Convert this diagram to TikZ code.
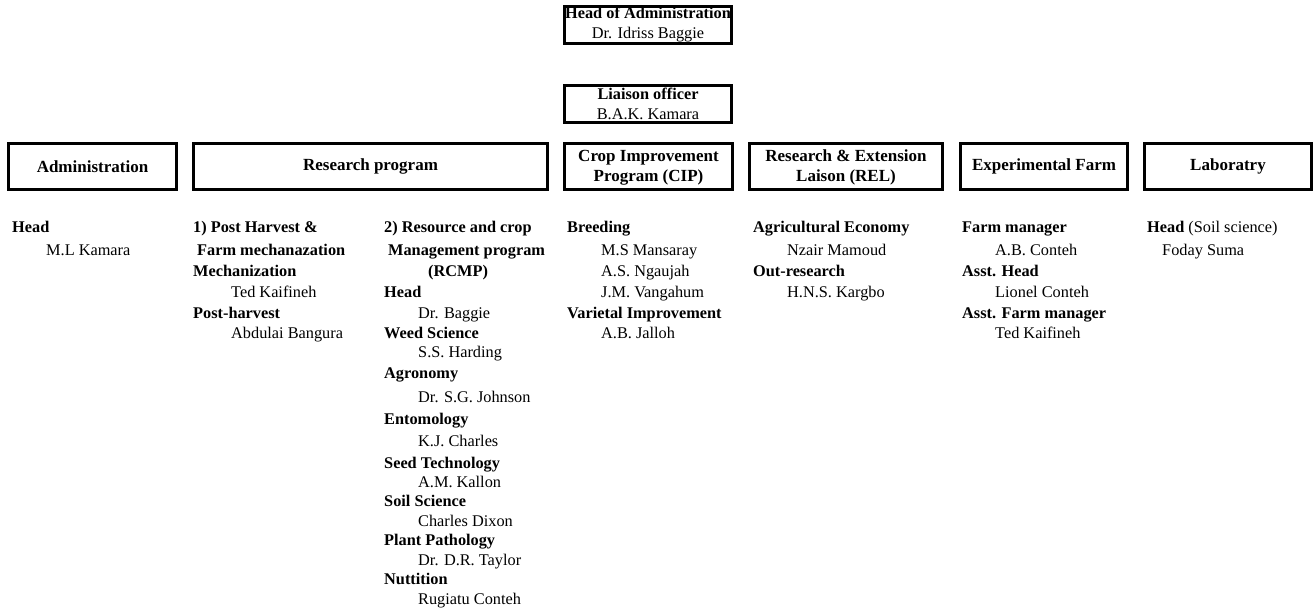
\documentclass[tikz,border=0pt]{standalone}
\usepackage{fontspec}
\setmainfont{Liberation Serif}

\begin{document}
\begin{tikzpicture}[
    x = 1pt, y = -1pt,
    every node/.style = {font = \fontsize{16.3}{20}\selectfont, inner sep = 0pt},
    headbox/.style = {draw, line width = 2.6pt, align = center, minimum width = 167.4pt, minimum height = 37.4pt},
    unitbox/.style = {draw, line width = 2.6pt, align = center, minimum height = 46.4pt, font = \fontsize{17}{20}\selectfont\bfseries},
    entry/.style = {anchor = base west},
]
\useasboundingbox (0,0) rectangle (1314,610);

% top of the chart
\node[headbox] (hoa) at (648, 25) {\textbf{Head of Administration}\\Dr. Idriss Baggie};
\node[headbox] (lo) at (648, 104) {\textbf{Liaison officer}\\B.A.K. Kamara};

% the units
\node[unitbox, minimum width = 168.4pt] (adm) at (92.5, 166.5) {Administration};
\node[unitbox, minimum width = 354.4pt] (rp) at (370.5, 166.5) {Research program};
\node[unitbox, minimum width = 168.4pt] (cip) at (648.5, 166.5) {\rule{0pt}{14pt}Crop Improvement\\Program (CIP)};
\node[unitbox, minimum width = 193.4pt] (rel) at (846, 166.5) {\rule{0pt}{14pt}Research \& Extension\\Laison (REL)};
\node[unitbox, minimum width = 167.4pt] (ef) at (1044, 166.5) {Experimental Farm};
\node[unitbox, minimum width = 167.4pt] (lab) at (1228, 166.5) {Laboratry};

% staff lists
\foreach \xx/\yy/\t [count=\i] in {
    12/232.5/\textbf{Head}, 46/255.5/M.L Kamara}
    \node[entry] (adm-\i) at (\xx, \yy) {\t};

\foreach \xx/\yy/\t [count=\i] in {
    193/232.5/\textbf{1) Post Harvest \&},
    197/255.5/\textbf{Farm mechanazation},
    193/276/\textbf{Mechanization},
    231/297.5/Ted Kaifineh,
    193/318.5/\textbf{Post-harvest},
    231/338.5/Abdulai Bangura}
    \node[entry] (rp1-\i) at (\xx, \yy) {\t};

\foreach \xx/\yy/\t [count=\i] in {
    384/232.5/\textbf{2) Resource and crop},
    388/255.5/\textbf{Management program},
    428/276/\textbf{(RCMP)},
    384/297.5/\textbf{Head},
    418/318.5/Dr. Baggie,
    384/338.5/\textbf{Weed Science},
    418/357.5/S.S. Harding,
    384/378.5/\textbf{Agronomy},
    418/402.5/Dr. S.G. Johnson,
    384/424.5/\textbf{Entomology},
    418/446.5/K.J. Charles,
    384/468.5/\textbf{Seed Technology},
    418/487.5/A.M. Kallon,
    384/506.5/\textbf{Soil Science},
    418/526.5/Charles Dixon,
    384/545.5/\textbf{Plant Pathology},
    418/565.5/Dr. D.R. Taylor,
    384/584.5/\textbf{Nuttition},
    418/604.5/Rugiatu Conteh}
    \node[entry] (rp2-\i) at (\xx, \yy) {\t};

\foreach \xx/\yy/\t [count=\i] in {
    567/232.5/\textbf{Breeding},
    601/255.5/M.S Mansaray,
    601/276/A.S. Ngaujah,
    601/297.5/J.M. Vangahum,
    567/318.5/\textbf{Varietal Improvement},
    601/338.5/A.B. Jalloh}
    \node[entry] (cip-\i) at (\xx, \yy) {\t};

\foreach \xx/\yy/\t [count=\i] in {
    753/232.5/\textbf{Agricultural Economy},
    787/255.5/Nzair Mamoud,
    753/276/\textbf{Out-research},
    787/297.5/H.N.S. Kargbo}
    \node[entry] (rel-\i) at (\xx, \yy) {\t};

\foreach \xx/\yy/\t [count=\i] in {
    962/232.5/\textbf{Farm manager},
    995/255.5/A.B. Conteh,
    962/276/\textbf{Asst. Head},
    995/297.5/Lionel Conteh,
    962/318.5/\textbf{Asst. Farm manager},
    995/338.5/Ted Kaifineh}
    \node[entry] (ef-\i) at (\xx, \yy) {\t};

\foreach \xx/\yy/\t [count=\i] in {
    1147/232.5/\textbf{Head} (Soil science),
    1162/255.5/Foday Suma}
    \node[entry] (lab-\i) at (\xx, \yy) {\t};
\end{tikzpicture}
\end{document}
